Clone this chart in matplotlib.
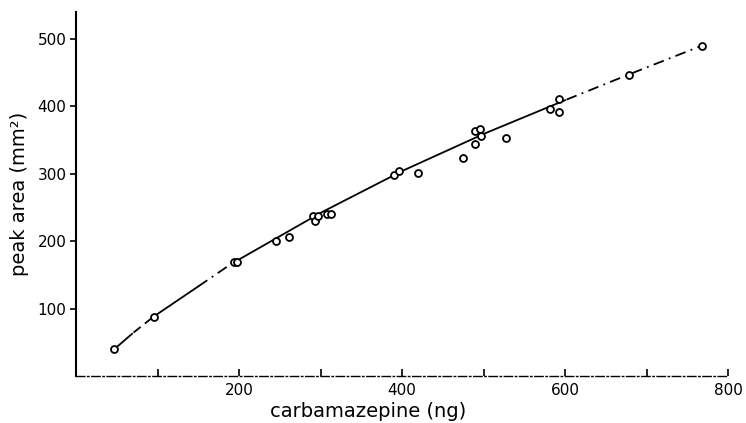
"""Calibration curve: peak area vs amount of carbamazepine injected."""

import matplotlib.pyplot as plt
import numpy as np

amount_ng = [47, 96, 194, 197, 245, 261, 291, 293, 297, 308, 313,
             390, 396, 420, 475, 489, 489, 496, 497, 528,
             582, 592, 593, 678, 768]
peak_area = [40, 88, 169, 169, 200, 206, 238, 230, 237, 241, 240,
             298, 304, 301, 323, 344, 364, 367, 356, 353,
             396, 411, 391, 447, 490]

# hand-drawn calibration curve, nodes
curve_x = [47, 70, 95, 150, 190, 300, 400, 500, 600, 680, 768]
curve_y = [40, 64, 88, 133, 166, 242, 304, 359, 409, 448, 490]

# pieces of the curve that are drawn broken in the original
curve_breaks = [(47, 70, "-"), (70, 95, (0, (5, 3))), (95, 150, "-"),
                (150, 190, (0, (6, 3, 1, 3))), (190, 600, "-"),
                (600, 768, (0, (6, 3, 1, 3)))]

y_ticks = [100, 200, 300, 400, 500]
x_major = [200, 400, 600, 800]
x_minor = [100, 300, 500, 700]

fig = plt.figure(figsize=(7.46, 4.23), dpi=100)
ax = fig.add_axes([0.102, 0.111, 0.874, 0.861])

xs = np.linspace(curve_x[0], curve_x[-1], 400)
ys = np.interp(xs, curve_x, curve_y)
for x0, x1, style in curve_breaks:
    m = (xs >= x0) & (xs <= x1)
    ax.plot(xs[m], ys[m], color="black", linewidth=1.3, linestyle=style)

ax.plot(amount_ng, peak_area, linestyle="none", marker="o", markersize=5,
        markerfacecolor="white", markeredgecolor="black", markeredgewidth=1.3)

ax.set_xlim(0, 800)
ax.set_ylim(0, 540)
ax.set_yticks(y_ticks)
ax.set_xticks(x_major)
ax.set_xticks(x_minor, minor=True)
ax.tick_params(axis="y", direction="out", length=4, width=1.2, labelsize=11, pad=3)
ax.tick_params(axis="x", which="major", direction="in", length=5, width=1.2,
               labelsize=11, pad=5)
ax.tick_params(axis="x", which="minor", direction="in", length=5, width=1.2)

for side in ("top", "right"):
    ax.spines[side].set_visible(False)
ax.spines["left"].set_linewidth(1.5)
ax.spines["bottom"].set_linewidth(1.0)
ax.spines["bottom"].set_linestyle((0, (6, 2, 1, 2)))

ax.set_xlabel("carbamazepine (ng)", fontsize=14)
ax.xaxis.set_label_coords(0.448, -0.072)
ax.set_ylabel("peak area (mm²)", fontsize=14, labelpad=6)

fig.savefig("out.png")
